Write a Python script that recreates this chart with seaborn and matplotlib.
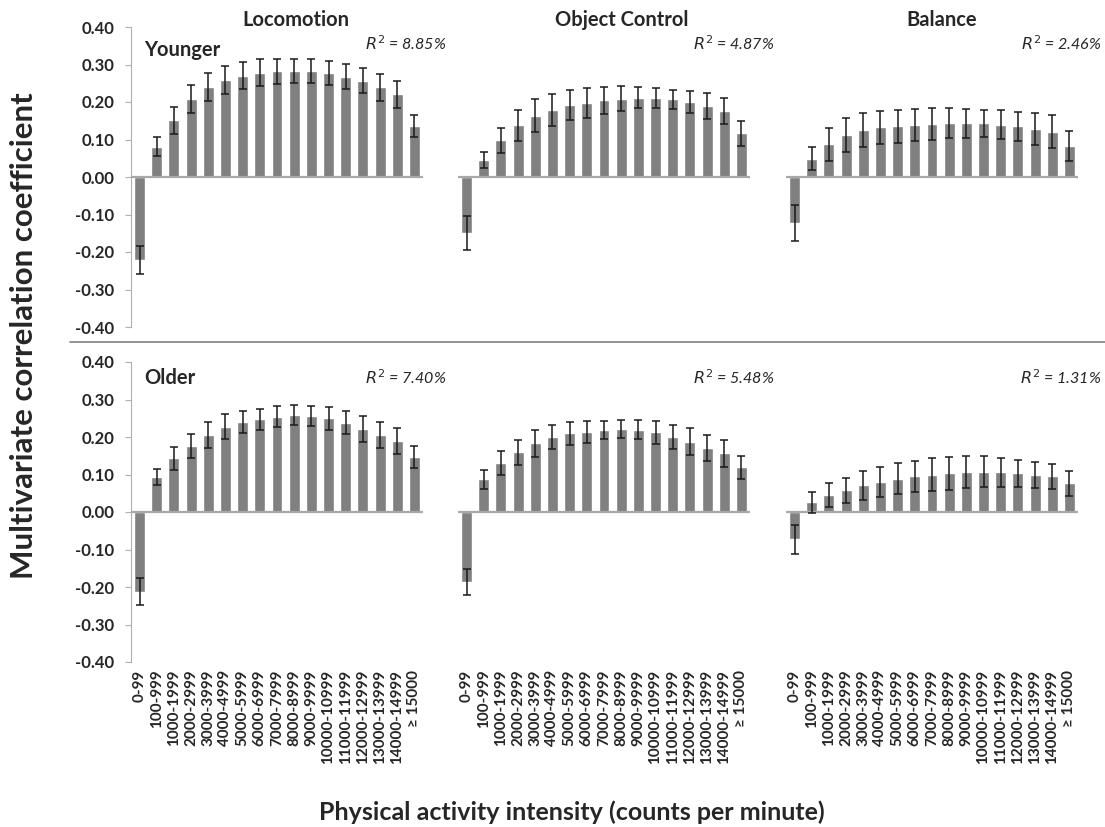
import numpy as np
import pandas as pd
from matplotlib import pyplot as plt
import seaborn as sns

# categories (counts per minute)
categories = ['0-99', '100-999', '1000-1999', '2000-2999', '3000-3999', '4000-4999',
              '5000-5999', '6000-6999', '7000-7999', '8000-8999', '9000-9999',
              '10000-10999', '11000-11999', '12000-12999', '13000-13999',
              '14000-14999', '\u2265 15000']

skills = ['Locomotion', 'Object Control', 'Balance']
groups = ['Younger', 'Older']

# younger
loco_young = [-0.222, 0.081, 0.151, 0.209, 0.240, 0.258, 0.270, 0.278, 0.282,
              0.284, 0.283, 0.278, 0.268, 0.257, 0.239, 0.221, 0.136]
loco_young_err = [0.037, 0.025, 0.035, 0.037, 0.037, 0.037, 0.036, 0.036, 0.033,
                  0.032, 0.032, 0.032, 0.033, 0.034, 0.036, 0.036, 0.030]
obj_young = [-0.150, 0.045, 0.098, 0.138, 0.164, 0.179, 0.191, 0.198, 0.205,
             0.209, 0.211, 0.211, 0.207, 0.200, 0.190, 0.177, 0.117]
obj_young_err = [0.045, 0.021, 0.034, 0.041, 0.043, 0.043, 0.040, 0.040, 0.036,
                 0.033, 0.028, 0.027, 0.026, 0.030, 0.034, 0.035, 0.033]
bal_young = [-0.122, 0.049, 0.087, 0.112, 0.126, 0.133, 0.135, 0.139, 0.141,
             0.143, 0.143, 0.143, 0.140, 0.135, 0.128, 0.121, 0.083]
bal_young_err = [0.048, 0.031, 0.043, 0.046, 0.046, 0.044, 0.043, 0.043, 0.042,
                 0.040, 0.039, 0.037, 0.039, 0.038, 0.043, 0.044, 0.040]

# older
loco_old = [-0.212, 0.094, 0.143, 0.176, 0.205, 0.228, 0.240, 0.247, 0.254,
            0.258, 0.256, 0.250, 0.238, 0.222, 0.205, 0.190, 0.146]
loco_old_err = [0.035, 0.022, 0.030, 0.031, 0.034, 0.033, 0.030, 0.029, 0.028,
                0.027, 0.027, 0.030, 0.031, 0.034, 0.034, 0.034, 0.029]
obj_old = [-0.186, 0.087, 0.131, 0.159, 0.183, 0.200, 0.210, 0.214, 0.220,
           0.221, 0.220, 0.213, 0.200, 0.187, 0.171, 0.157, 0.119]
obj_old_err = [0.035, 0.026, 0.032, 0.034, 0.035, 0.033, 0.030, 0.030, 0.024,
               0.024, 0.026, 0.031, 0.033, 0.036, 0.034, 0.036, 0.031]
bal_old = [-0.073, 0.026, 0.045, 0.058, 0.071, 0.080, 0.089, 0.095, 0.100,
           0.104, 0.106, 0.108, 0.106, 0.104, 0.098, 0.095, 0.077]
bal_old_err = [0.038, 0.028, 0.032, 0.034, 0.038, 0.039, 0.041, 0.041, 0.044,
               0.044, 0.043, 0.041, 0.038, 0.036, 0.035, 0.034, 0.033]

r2_labels = [['8.85%', '4.87%', '2.46%'], ['7.40%', '5.48%', '1.31%']]
yticks = [-0.4, -0.3, -0.2, -0.1, 0.0, 0.1, 0.2, 0.3, 0.4]

values = [[loco_young, obj_young, bal_young], [loco_old, obj_old, bal_old]]
errors = [[loco_young_err, obj_young_err, bal_young_err],
          [loco_old_err, obj_old_err, bal_old_err]]

sns.set_style("white")
plt.rcParams['font.family'] = ['Lato', 'DejaVu Sans']

fig = plt.figure(figsize=(11.05, 8.27), dpi=100)
W, H = 1105.0, 827.0
col_left = [131, 458, 786]
col_w = 292
row_top = [27, 362]
row_h = 300
title_x = [296, 622, 942]
r2_x = [447, 775, 1102]
label_y = [44, 378]
group_y = [50, 378]

bar_color = '#808080'
for r in range(2):
    for c in range(3):
        ax = fig.add_axes([col_left[c] / W, 1 - (row_top[r] + row_h) / H,
                           col_w / W, row_h / H])
        df = pd.DataFrame({'cat': categories, 'val': values[r][c]})
        sns.barplot(data=df, x='cat', y='val', color=bar_color, width=0.64,
                    saturation=1, ax=ax, errorbar=None)
        ax.errorbar(np.arange(len(categories)), values[r][c], yerr=errors[r][c],
                    fmt='none', ecolor='#1a1a1a', elinewidth=1.1, capsize=3,
                    capthick=1.1, zorder=4)
        ax.axhline(0, color='#a8a8a8', lw=1.6, zorder=3)
        ax.set_ylim(-0.4, 0.4)
        ax.set_xlim(-0.5, len(categories) - 0.5)
        ax.set_xlabel('')
        ax.set_ylabel('')
        for s in ['top', 'right', 'bottom']:
            ax.spines[s].set_visible(False)
        if c == 0:
            ax.spines['left'].set_color('#b0b0b0')
            ax.set_yticks(yticks)
            ax.set_yticklabels(['%.2f' % v for v in yticks],
                               fontsize=12, fontweight='bold')
            ax.tick_params(axis='y', left=True, length=4, color='#b0b0b0', pad=8)
        else:
            ax.spines['left'].set_visible(False)
            ax.set_yticks([])
        if r == 1:
            ax.set_xticks(range(len(categories)))
            ax.set_xticklabels(categories, rotation=90, fontsize=11,
                               fontweight='bold')
            ax.tick_params(axis='x', bottom=False, pad=2)
        else:
            ax.set_xticks([])
            fig.text(title_x[c] / W, 1 - 20 / H, skills[c], ha='center',
                     va='center', fontsize=14.5, fontweight='bold')
        fig.text(r2_x[c] / W, 1 - label_y[r] / H, '$R^2$ = ' + r2_labels[r][c],
                 ha='right', va='center', fontsize=11.5, style='italic')
        if c == 0:
            fig.text(144 / W, 1 - group_y[r] / H, groups[r], ha='left',
                     va='center', fontsize=14.5, fontweight='bold')
        ax.patch.set_alpha(0)

# separator between rows
fig.add_artist(plt.Line2D([70 / W, 1.0], [1 - 342 / H, 1 - 342 / H],
                          color='#808080', lw=1.2))

fig.text(572 / W, 1 - 812 / H, 'Physical activity intensity (counts per minute)',
         ha='center', va='center', fontsize=18, fontweight='bold')
fig.text(24 / W, 1 - 336 / H, 'Multivariate correlation coefficient',
         ha='center', va='center', rotation=90, fontsize=22.5, fontweight='bold')

fig.savefig('out.png', dpi=100, facecolor='white')
